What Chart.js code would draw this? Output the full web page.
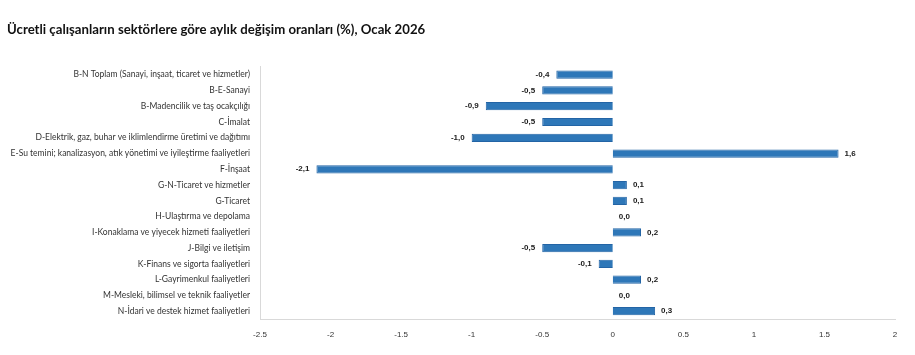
<!DOCTYPE html>
<html>
<head>
<meta charset="utf-8">
<script src="https://cdn.jsdelivr.net/npm/chart.js@4/dist/chart.umd.min.js"></script>
<style>
html,body{margin:0;padding:0;background:#fff;}
#wrap{width:915px;height:355px;position:relative;}
</style>
</head>
<body>
<div id="wrap"><canvas id="c" width="915" height="355"></canvas></div>
<script>
const categories = [
  "B-N Toplam (Sanayi, inşaat, ticaret ve hizmetler)",
  "B-E-Sanayi",
  "B-Madencilik ve taş ocakçılığı",
  "C-İmalat",
  "D-Elektrik, gaz, buhar ve iklimlendirme üretimi ve dağıtımı",
  "E-Su temini; kanalizasyon, atık yönetimi ve iyileştirme faaliyetleri",
  "F-İnşaat",
  "G-N-Ticaret ve hizmetler",
  "G-Ticaret",
  "H-Ulaştırma ve depolama",
  "I-Konaklama ve yiyecek hizmeti faaliyetleri",
  "J-Bilgi ve iletişim",
  "K-Finans ve sigorta faaliyetleri",
  "L-Gayrimenkul faaliyetleri",
  "M-Mesleki, bilimsel ve teknik faaliyetler",
  "N-İdari ve destek hizmet faaliyetleri"
];
const values = [-0.4, -0.5, -0.9, -0.5, -1.0, 1.6, -2.1, 0.1, 0.1, 0.0, 0.2, -0.5, -0.1, 0.2, 0.0, 0.3];
const xTicks = [-2.5, -2, -1.5, -1, -0.5, 0, 0.5, 1, 1.5, 2];
const titleText = "Ücretli çalışanların sektörlere göre aylık değişim oranları (%), Ocak 2026";

const valueLabels = {
  id: 'valueLabels',
  afterDatasetsDraw(chart) {
    const ctx = chart.ctx;
    const meta = chart.getDatasetMeta(0);
    ctx.save();
    ctx.font = 'bold 8px "Liberation Sans", Arial, sans-serif';
    ctx.fillStyle = '#1a1a1a';
    ctx.textBaseline = 'middle';
    meta.data.forEach((bar, i) => {
      const v = values[i];
      const txt = v.toFixed(1).replace('.', ',');
      if (v < 0) {
        ctx.textAlign = 'right';
        ctx.fillText(txt, bar.x - 7, bar.y);
      } else {
        ctx.textAlign = 'left';
        ctx.fillText(txt, bar.x + 6, bar.y);
      }
    });
    ctx.restore();
  }
};

new Chart(document.getElementById('c'), {
  type: 'bar',
  data: {
    labels: categories,
    datasets: [{
      data: values,
      backgroundColor: '#2E77B8',
      borderColor: '#2364A5',
      borderWidth: 1,
      barPercentage: 0.55,
      categoryPercentage: 0.95
    }]
  },
  options: {
    indexAxis: 'y',
    responsive: false,
    animation: false,
    layout: { padding: { left: 7, right: 20, top: 0, bottom: 0 } },
    plugins: {
      legend: { display: false },
      tooltip: { enabled: false },
      title: {
        display: true,
        text: titleText,
        align: 'start',
        color: '#111',
        font: { family: 'Lato, "Noto Sans", sans-serif', size: 13.2, weight: 'bold' },
        padding: { top: 22, bottom: 29 }
      }
    },
    scales: {
      x: {
        min: -2.5, max: 2,
        afterBuildTicks(axis) { axis.ticks = xTicks.map(v => ({ value: v })); },
        grid: { display: false },
        border: { display: true, color: '#d9d9d9' },
        ticks: {
          color: '#333',
          font: { family: '"Liberation Sans Narrow", "Liberation Sans", Arial, sans-serif', size: 8 },
          padding: 3,
          maxRotation: 0,
          callback: (v) => String(v)
        },
        afterFit(axis) { axis.height = 36; }
      },
      y: {
        grid: { display: false },
        border: { display: true, color: '#d9d9d9' },
        ticks: {
          color: '#333',
          font: { family: 'Lato, sans-serif', size: 8.5 },
          padding: 2,
          autoSkip: false
        },
        afterFit(axis) { axis.width = 253; }
      }
    }
  },
  plugins: [valueLabels]
});
</script>
</body>
</html>
